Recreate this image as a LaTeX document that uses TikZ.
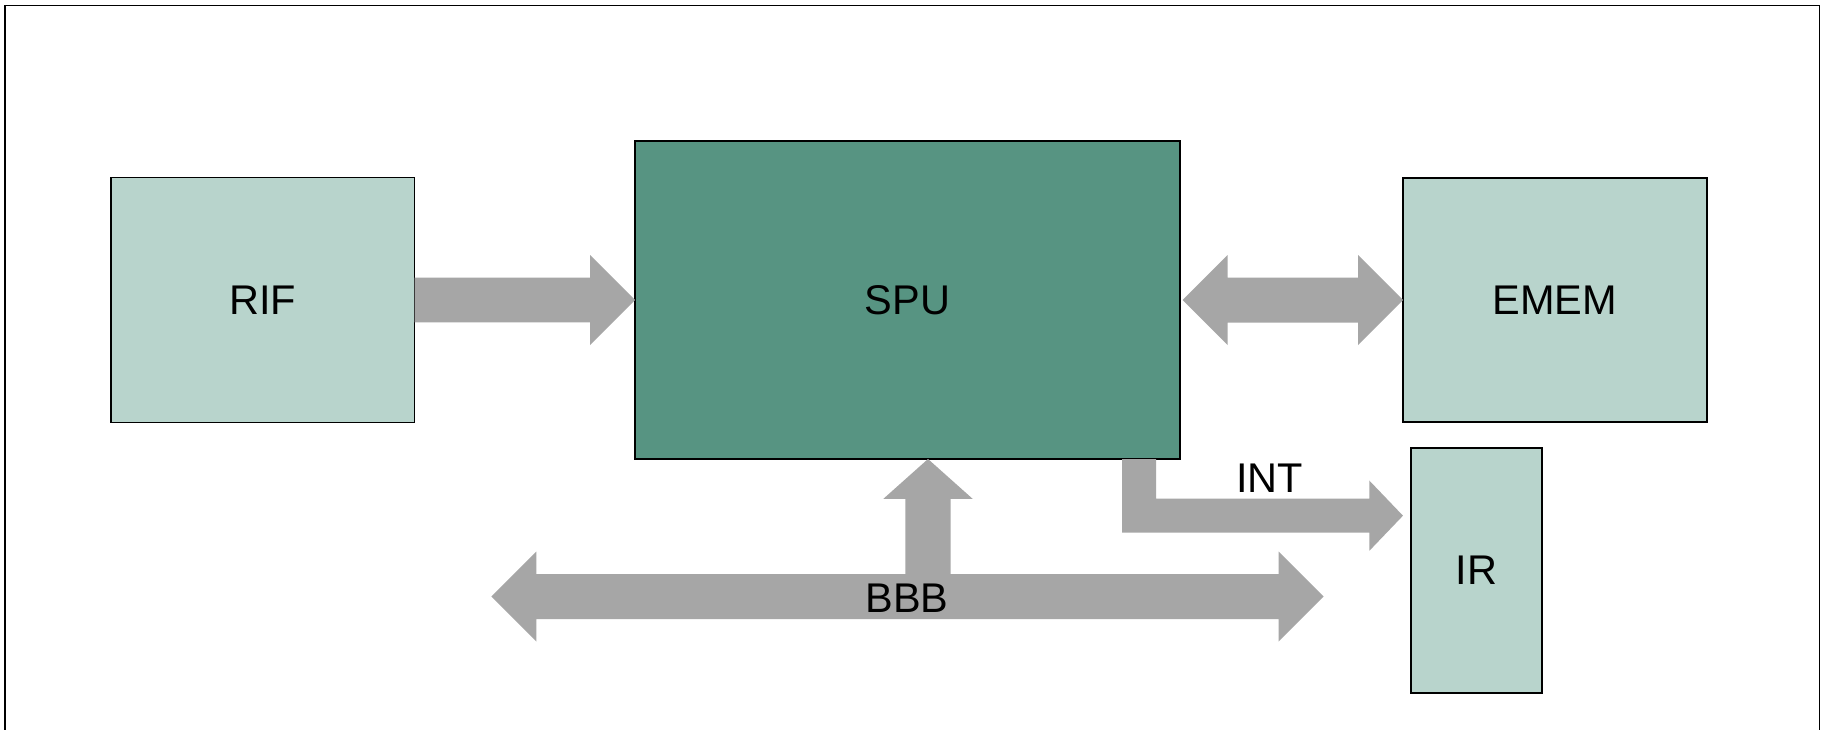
\documentclass[tikz,border=0pt]{standalone}
\usepackage{fontspec}
\setmainfont{Liberation Sans}
\usetikzlibrary{calc}
\definecolor{lightbox}{RGB}{184,212,204}
\definecolor{spubox}{RGB}{87,148,130}
\definecolor{busgray}{RGB}{166,166,166}
\begin{document}
\begin{tikzpicture}[x=1pt,y=-1pt,
  blockbox/.style={draw=black,line width=1.8pt,rectangle,inner sep=0pt,outer sep=0pt,
    font=\fontsize{41.5}{50}\selectfont},
  lightblk/.style={blockbox,fill=lightbox},
  bus/.style={fill=busgray,draw=none},
  lbl/.style={inner sep=0pt,font=\fontsize{41.5}{50}\selectfont}]
\useasboundingbox (0,0) rectangle (1825,730);
\fill[white] (0,0) rectangle (1825,730);
\draw[line width=1.8pt] (4.6,5.6) rectangle (1819.4,760);

\node[lightblk,minimum width=303.5pt,minimum height=245pt] (RIF) at (262.75,300) {RIF};
\node[blockbox,fill=spubox,minimum width=545pt,minimum height=318pt] (SPU) at (907.5,300) {SPU};
\node[lightblk,minimum width=303.6pt,minimum height=244pt] (EMEM) at (1554.8,300) {EMEM};
\node[lightblk,minimum width=130.7pt,minimum height=244.3pt] (IR) at (1476.3,570.5) {IR};

% RIF -> SPU
\fill[bus] ([yshift=22.3pt]RIF.east) -- ([xshift=-45pt,yshift=22.3pt]SPU.west)
  -- ([xshift=-45pt,yshift=45pt]SPU.west) -- (SPU.west)
  -- ([xshift=-45pt,yshift=-45pt]SPU.west) -- ([xshift=-45pt,yshift=-22.3pt]SPU.west)
  -- ([yshift=-22.3pt]RIF.east) -- cycle;

% SPU <-> EMEM
\coordinate (eL) at ([xshift=2.5pt]SPU.east);
\coordinate (eR) at (EMEM.west);
\fill[bus] (eL) -- ([xshift=45pt,yshift=45pt]eL) -- ([xshift=45pt,yshift=22.5pt]eL)
  -- ([xshift=-45pt,yshift=22.5pt]eR) -- ([xshift=-45pt,yshift=45pt]eR) -- (eR)
  -- ([xshift=-45pt,yshift=-45pt]eR) -- ([xshift=-45pt,yshift=-22.5pt]eR)
  -- ([xshift=45pt,yshift=-22.5pt]eL) -- ([xshift=45pt,yshift=-45pt]eL) -- cycle;

% BBB bus
\coordinate (bL) at (491.4,596.5);
\coordinate (bR) at (1323.5,596.5);
\fill[bus] (bL) -- ([xshift=45pt,yshift=45pt]bL) -- ([xshift=45pt,yshift=22.5pt]bL)
  -- ([xshift=-45pt,yshift=22.5pt]bR) -- ([xshift=-45pt,yshift=45pt]bR) -- (bR)
  -- ([xshift=-45pt,yshift=-45pt]bR) -- ([xshift=-45pt,yshift=-22.5pt]bR)
  -- ([xshift=45pt,yshift=-22.5pt]bL) -- ([xshift=45pt,yshift=-45pt]bL) -- cycle;

% BBB -> SPU
\coordinate (uT) at ([xshift=20.5pt]SPU.south);
\fill[bus] (uT) -- ([xshift=44.6pt,yshift=-39.8pt]uT) -- ([xshift=22.7pt,yshift=-39.8pt]uT)
  -- ([xshift=22.7pt,yshift=-116pt]uT) -- ([xshift=-22.7pt,yshift=-116pt]uT)
  -- ([xshift=-22.7pt,yshift=-39.8pt]uT) -- ([xshift=-44.6pt,yshift=-39.8pt]uT) -- cycle;

% INT elbow SPU -> IR
\coordinate (iS) at (SPU.south -| 1139,0);
\coordinate (iT) at ([xshift=-8pt]IR.west |- 0,515.7);
\fill[bus] ([xshift=-17pt]iS) -- ([xshift=17pt]iS) -- ([xshift=17pt]iS |- 0,498.6)
  -- ([xshift=-33.5pt,yshift=17.1pt]iT) -- ([xshift=-33.5pt,yshift=35pt]iT) -- (iT)
  -- ([xshift=-33.5pt,yshift=-35pt]iT) -- ([xshift=-33.5pt,yshift=-17pt]iT)
  -- ([xshift=-17pt]iS |- 0,532.7) -- cycle;

\node[lbl] (INT) at (1269.5,478) {INT};
\node[lbl] (BBB) at (907,598) {BBB};
\end{tikzpicture}
\end{document}
